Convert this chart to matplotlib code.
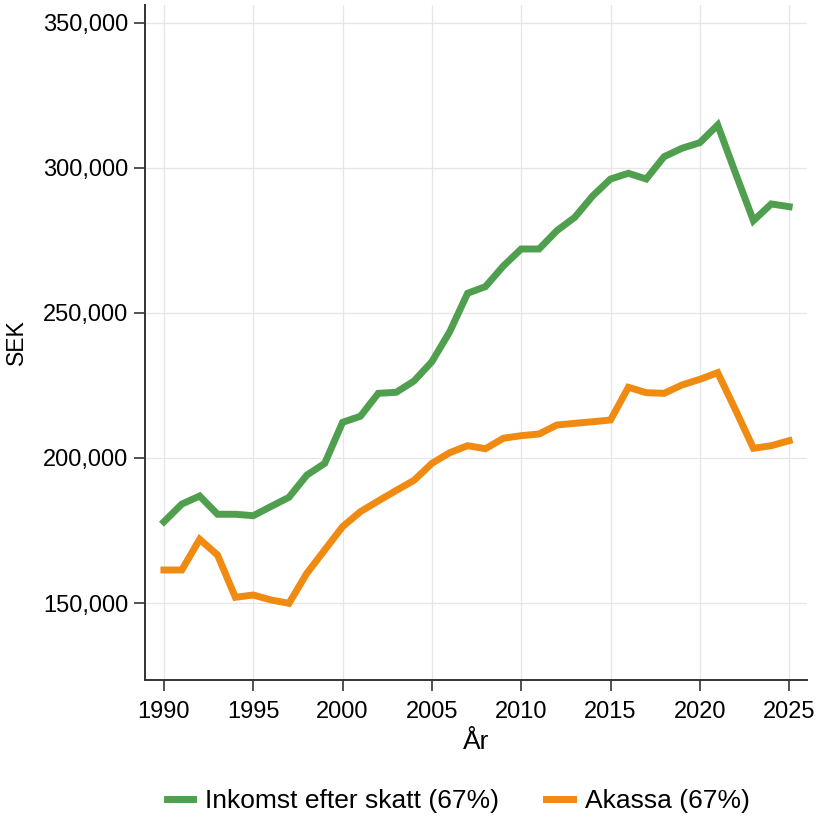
import matplotlib
matplotlib.use("Agg")
import matplotlib.pyplot as plt
from matplotlib.ticker import FuncFormatter

plt.rcParams['font.family'] = ['Liberation Sans', 'DejaVu Sans']

years = list(range(1990, 2026))
inkomst = [178000, 184100, 186900, 180600, 180600, 180100, 183300, 186450, 194100, 198150,
           212300, 214400, 222300, 222650, 226550, 233200, 243550, 256800, 259100, 266200,
           272070, 272070, 278400, 283000, 290350, 296200, 298170, 296200, 303900, 306800,
           308730, 314830, 298170, 281830, 287600, 286660]
akassa = [161380, 161380, 171960, 166550, 151970, 152760, 151030, 149900, 160240, 168280,
          176320, 181500, 185200, 188800, 192300, 198150, 201830, 204240, 203200, 206800,
          207700, 208280, 211380, 211950, 212500, 213100, 224380, 222520, 222300, 225170,
          227130, 229430, 216550, 203340, 204240, 205970]
series_labels = ["Inkomst efter skatt (67%)", "Akassa (67%)"]
xticks = [1990, 1995, 2000, 2005, 2010, 2015, 2020, 2025]
yticks = [150000, 200000, 250000, 300000, 350000]

fig = plt.figure(figsize=(8.17, 8.19), dpi=100)
ax = fig.add_axes([145/817, 139/819, (807-145)/817, (680-5)/819])

green = '#4f9f4f'
orange = '#f08a10'
ax.plot(years, inkomst, color=green, lw=5, label=series_labels[0], solid_joinstyle='miter', zorder=3)
ax.plot(years, akassa, color=orange, lw=5, label=series_labels[1], solid_joinstyle='miter', zorder=3)

ax.set_xlim(1988.94, 2026.0)
ax.set_ylim(123450, 356200)
ax.set_xticks(xticks)
ax.set_yticks(yticks)
ax.yaxis.set_major_formatter(FuncFormatter(lambda v, p: f"{int(v):,}"))
ax.grid(True, color='#e6e6e6', lw=0.9, zorder=0)
ax.set_axisbelow(True)
for s in ['top', 'right']:
    ax.spines[s].set_visible(False)
for s in ['left', 'bottom']:
    ax.spines[s].set_color('#333333')
    ax.spines[s].set_linewidth(1.4)
ax.tick_params(axis='both', direction='out', length=8, width=1.2, color='#333333',
               labelsize=17)
ax.tick_params(axis='x', pad=7)
ax.tick_params(axis='y', pad=4)
ax.set_ylabel("SEK", fontsize=16.5, labelpad=11)
ax.set_xlabel("År", fontsize=19, labelpad=5)

handles, labels = ax.get_legend_handles_labels()
fig.legend(handles, labels, loc='center', bbox_to_anchor=(458/817, 1-801/819), ncol=2,
           frameon=False, fontsize=19, handlelength=1.0, columnspacing=1.8, handletextpad=0.45)

fig.savefig("out.png", dpi=100)
